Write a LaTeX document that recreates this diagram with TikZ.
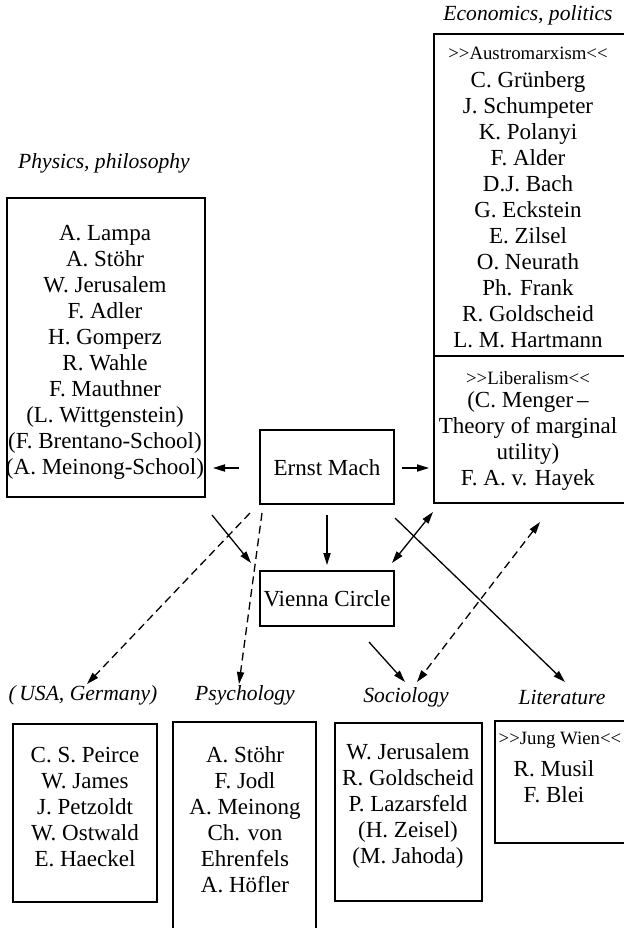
\documentclass[tikz,border=0pt]{standalone}
\usepackage{fontspec}
\setmainfont{Liberation Serif}
\usetikzlibrary{arrows.meta,fit}

\tikzset{
  frame/.style={draw, line width=0.75pt, inner sep=0pt},
  names/.style={align=center, inner sep=0pt, font=\fontsize{11.5}{13}\selectfont},
  tag/.style={inner sep=0pt, font=\fontsize{9.4}{11}\selectfont},
  field/.style={inner sep=0pt, font=\fontsize{10.8}{13}\selectfont\itshape},
  tip/.tip={Triangle[length=6pt,width=3.6pt]},
  link/.style={line width=0.65pt, -tip},
  twoway/.style={line width=0.65pt, tip-tip},
  dashlink/.style={link, dash pattern=on 4pt off 2.4pt},
  dashtwoway/.style={twoway, dash pattern=on 4pt off 2.4pt},
}
% guillemet-free angle pairs
\newcommand{\opn}{>{}>}
\newcommand{\cls}{<{}<}

\begin{document}
\begin{tikzpicture}[x=0.5pt, y=-0.5pt]
\useasboundingbox (0,0) rectangle (623,928);

% ---- central nodes ----
\node[frame, fit={(260,430) (394,504)}] (mach) {};
\node[names] (machT) at (327,468) {Ernst Mach};
\node[frame, fit={(260,571) (394,626)}] (vienna) {};
\node[names] (viennaT) at (327,599) {Vienna Circle};

% ---- physics, philosophy ----
\node[field] (physL) at (104,163) {Physics, philosophy};
\node[frame, fit={(7,198) (205,497)}] (phys) {};
\node[names] (physT) at (105,352) {A. Lampa\\A. Stöhr\\W. Jerusalem\\F. Adler\\H. Gomperz\\R. Wahle\\F. Mauthner\\(L. Wittgenstein)\\(F. Brentano-School)\\(A. Meinong-School)};

% ---- economics, politics ----
\node[field] (econL) at (528,15) {Economics, politics};
\node[frame, fit={(434,34) (626,356)}] (econ) {};
\node[tag] (econH) at (528,53) {\opn Austromarxism\cls};
\node[names] (econT) at (528,210) {C. Grünberg\\J. Schumpeter\\K. Polanyi\\F. Alder\\D.J. Bach\\G. Eckstein\\E. Zilsel\\O. Neurath\\Ph. Frank\\R. Goldscheid\\L. M. Hartmann};
\node[frame, fit={(434,356) (626,503)}] (liberal) {};
\node[tag] (libH) at (528,378) {\opn Liberalism\cls};
\node[names] (libT) at (528,441) {(C. Menger\,–\\Theory of marginal\\utility)\\F. A. v. Hayek};

% ---- lower row ----
\node[field] (usaL) at (83,695) {(\,USA, Germany)};
\node[frame, fit={(13,724) (157,902)}] (usa) {};
\node[names] (usaT) at (85,807) {C. S. Peirce\\W. James\\J. Petzoldt\\W. Ostwald\\E. Haeckel};

\node[field] (psyL) at (245,695) {Psychology};
\node[frame, fit={(173,722) (316,940)}] (psy) {};
\node[names] (psyT) at (245,819.5) {A. Stöhr\\F. Jodl\\A. Meinong\\Ch. von\\Ehrenfels\\A. Höfler};

\node[field] (socL) at (406,697) {Sociology};
\node[frame, fit={(335,723) (482,901)}] (soc) {};
\node[names] (socT) at (408,806) {W. Jerusalem\\R. Goldscheid\\P. Lazarsfeld\\(H. Zeisel)\\(M. Jahoda)};

\node[field] (litL) at (562,697) {Literature};
\node[frame, fit={(495,721) (630,843)}] (lit) {};
\node[tag] (litH) at (560,740) {\opn Jung Wien\cls};
\node[names] (litT) at (554,781.5) {R. Musil\\F. Blei};

% ---- arrow end points ----
\coordinate (machW) at (239,468);  \coordinate (physE) at (213,468);
\coordinate (machE) at (402,468);  \coordinate (econW) at (429,468);
\coordinate (machS) at (327,515);  \coordinate (viennaN) at (327,565);
\coordinate (physSE) at (212,515); \coordinate (viennaNW) at (251,563);
\coordinate (machSW) at (250,513); \coordinate (usaN) at (87,684);
\coordinate (machSW2) at (262,513);\coordinate (psyN) at (239,684);
\coordinate (libSW) at (433,512);  \coordinate (viennaNE) at (392,563);
\coordinate (machSE) at (395,518); \coordinate (litN) at (565,682);
\coordinate (libS) at (540,522);   \coordinate (socNE) at (417,682);
\coordinate (viennaSE) at (369,642); \coordinate (socN) at (405,682);

% ---- connectors ----
\draw[link] (machW) -- (physE);
\draw[link] (machE) -- (econW);
\draw[link] (machS) -- (viennaN);
\draw[link] (physSE) -- (viennaNW);
\draw[dashlink] (machSW) -- (usaN);
\draw[dashlink] (machSW2) -- (psyN);
\draw[twoway] (libSW) -- (viennaNE);
\draw[link] (machSE) -- (litN);
\draw[dashtwoway] (libS) -- (socNE);
\draw[link] (viennaSE) -- (socN);
\end{tikzpicture}
\end{document}
